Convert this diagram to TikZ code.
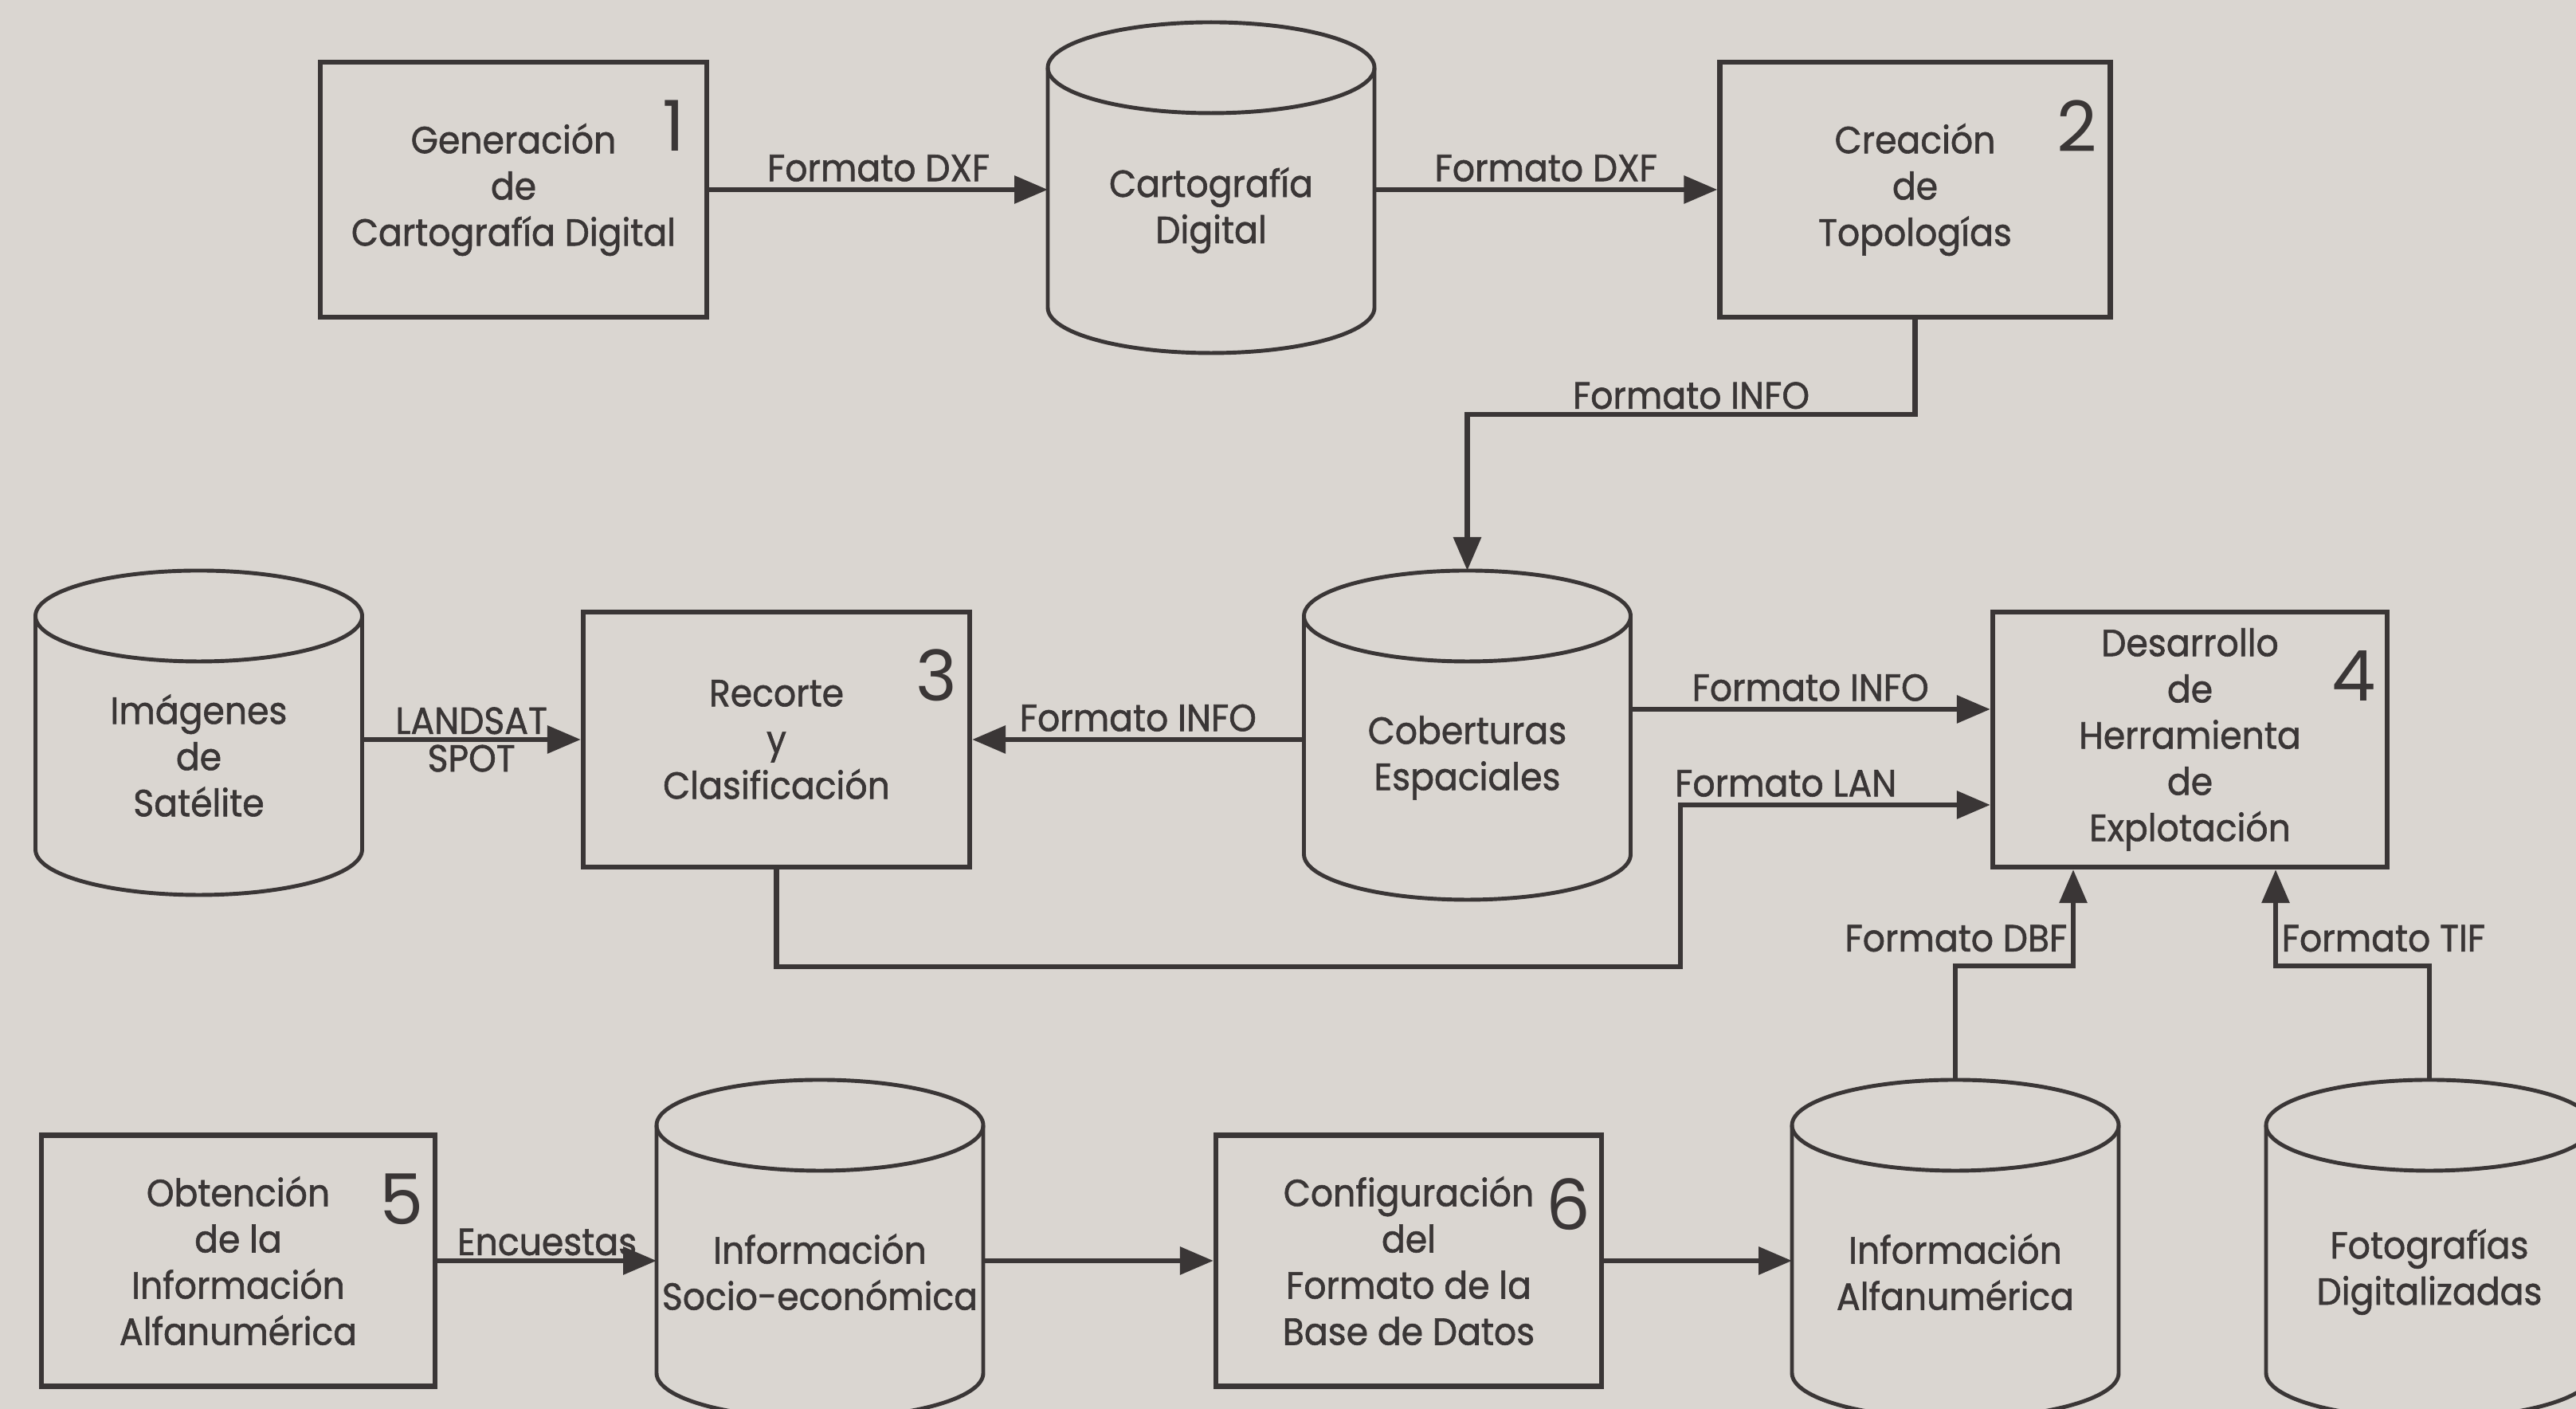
\documentclass[tikz,border=0pt]{standalone}
\usepackage{fontspec}
\setmainfont{Poppins}[FakeStretch=0.93, FakeBold=1.2]
\newfontfamily\numfont{Poppins}
\usetikzlibrary{arrows.meta}

\definecolor{papel}{RGB}{218,214,209}
\definecolor{tinta}{RGB}{58,54,54}

\newcommand{\cilindro}[1]{%
  \draw[borde] (#1.north) ellipse [x radius=2.05cm, y radius=0.57cm];
  \draw[borde] (#1.north west) -- ([yshift=0.57cm]#1.south west)
    arc [start angle=180, end angle=360, x radius=2.05cm, y radius=0.57cm]
    -- (#1.north east);
}

\begin{document}
\begin{tikzpicture}[
    color=tinta,
    texto/.style={font=\fontsize{13.5}{16.5}\selectfont},
    caja/.style={texto, draw, line width=1.8pt, minimum width=4.85cm,
      minimum height=3.2cm, align=center, inner sep=0pt},
    base/.style={texto, minimum width=4.1cm, inner sep=0pt, outer sep=0pt, align=center},
    borde/.style={line width=1.4pt},
    flecha/.style={line width=1.8pt, -{Triangle[length=4.2mm,width=3.4mm]}},
    etiq/.style={texto, inner sep=2pt},
    num/.style={font=\numfont\fontsize{25}{25}\selectfont, inner sep=0pt}
  ]
  \fill[papel] (0,0) rectangle (32.33,17.68);
  \useasboundingbox (0,0) rectangle (32.33,17.68);
  \clip (0,0) rectangle (32.33,17.68);

  \node[caja] (gen) at (6.445,15.30) {Generación\\de\\Cartografía Digital};
  \node[base, minimum height=3.58cm] (cart) at (15.20,15.04) {Cartografía\\Digital};
  \node[caja, minimum width=4.9cm] (topo) at (24.035,15.30) {Creación\\de\\Topologías};

  \node[base, minimum height=3.5cm] (img) at (2.495,8.20) {Imágenes\\de\\Satélite};
  \node[caja] (rec) at (9.745,8.40) {Recorte\\y\\Clasificación};
  \node[base, minimum height=3.56cm] (cob) at (18.415,8.17) {Coberturas\\Espaciales};
  \node[caja, minimum width=4.95cm] (herr) at (27.485,8.40)
    {Desarrollo\\de\\Herramienta\\de\\Explotación};

  \node[caja, minimum width=4.94cm, minimum height=3.15cm] (obt) at (2.99,1.86)
    {Obtención\\de la\\Información\\Alfanumérica};
  \node[base, minimum height=3.68cm] (soc) at (10.29,1.72) {Información\\Socio-económica};
  \node[caja, minimum width=4.84cm, minimum height=3.15cm] (conf) at (17.68,1.86)
    {Configuración\\del\\Formato de la\\Base de Datos};
  \node[base, minimum height=3.68cm] (alf) at (24.54,1.72) {Información\\Alfanumérica};
  \node[base, minimum height=3.68cm] (foto) at (30.49,1.72) {Fotografías\\Digitalizadas};

  \foreach \c in {cart,img,cob,soc,alf,foto} {\cilindro{\c}}

  \node[num] (n1) at ([xshift=-4.5mm,yshift=-8.3mm]gen.north east) {1};
  \node[num] (n2) at ([xshift=-4.5mm,yshift=-8.3mm]topo.north east) {2};
  \node[num] (n3) at ([xshift=-4.5mm,yshift=-8.3mm]rec.north east) {3};
  \node[num] (n4) at ([xshift=-4.5mm,yshift=-8.3mm]herr.north east) {4};
  \node[num] (n5) at ([xshift=-4.5mm,yshift=-8.3mm]obt.north east) {5};
  \node[num] (n6) at ([xshift=-4.5mm,yshift=-9mm]conf.north east) {6};

  \coordinate (cobtop) at ([yshift=5.7mm]cob.north);
  \coordinate (alftop) at ([yshift=5.7mm]alf.north);
  \coordinate (fototop) at ([yshift=5.7mm]foto.north);
  \coordinate (codo) at (18.415,12.48);
  \coordinate (lan) at (21.09,5.55);
  \coordinate (infoin) at ([yshift=3.8mm]herr.west);
  \coordinate (lanin) at ([yshift=-8.2mm]herr.west);
  \coordinate (dbfcodo) at (26.02,5.56);
  \coordinate (tifcodo) at (28.56,5.56);

  \draw[flecha] (gen.east) -- node[etiq, above] (dxf1) {Formato DXF} (gen.east -| cart.west);
  \draw[flecha] (cart.east |- topo.west) -- node[etiq, above] (dxf2) {Formato DXF} (topo.west);
  \draw[flecha] (topo.south) |- node[etiq, above, pos=0.75, inner sep=1pt] (info1) {Formato INFO} (codo) -- (cobtop);

  \draw[flecha] (img.east |- rec.west) -- node[etiq, above, inner sep=1pt] (lsat) {LANDSAT}
    node[etiq, below, inner sep=1pt] (spot) {SPOT} (rec.west);
  \draw[flecha] (cob.west |- rec.east) -- node[etiq, above] (info2) {Formato INFO} (rec.east);
  \draw[flecha] (cob.east |- infoin) -- node[etiq, above] (info3) {Formato INFO} (infoin);
  \draw[flecha] (rec.south) |- (lan) |- node[etiq, above, pos=0.67] (lanlab) {Formato LAN} (lanin);

  \draw[flecha] (alftop) |- (dbfcodo) -- (dbfcodo |- herr.south);
  \node[etiq, anchor=south east] (dbf) at ([yshift=1mm]dbfcodo) {Formato DBF};
  \draw[flecha] (fototop) |- (tifcodo) -- (tifcodo |- herr.south);
  \node[etiq, anchor=south west] (tif) at ([yshift=1mm]tifcodo) {Formato TIF};

  \draw[flecha] (obt.east) -- node[etiq, above, inner sep=1pt] (enc) {Encuestas} (obt.east -| soc.west);
  \draw[flecha] (soc.east |- conf.west) -- (conf.west);
  \draw[flecha] (conf.east) -- (conf.east -| alf.west);
\end{tikzpicture}
\end{document}
